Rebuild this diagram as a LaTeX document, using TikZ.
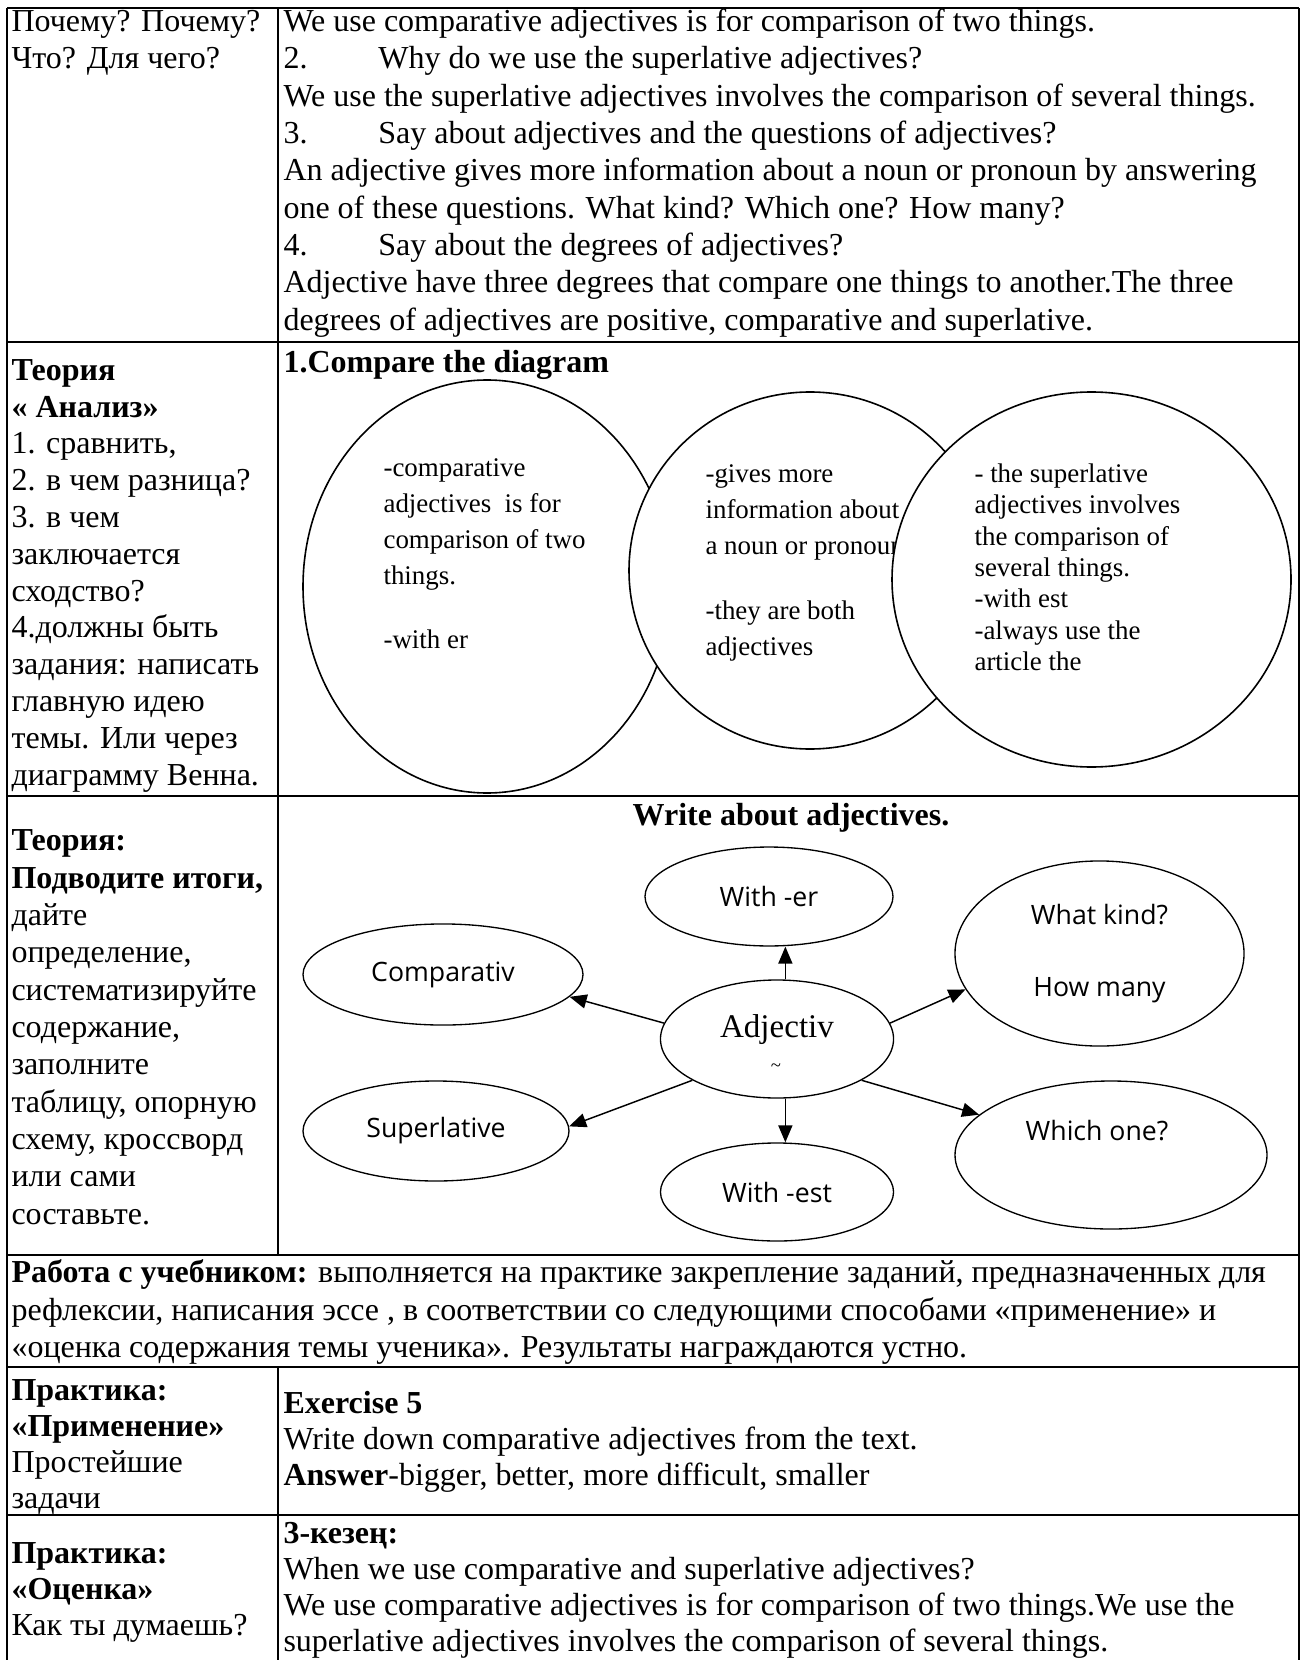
\documentclass[tikz,border=0pt]{standalone}
\usepackage{fontspec}
\setmainfont{Liberation Serif}
\newfontfamily\mapfont{Open Sans}
\usetikzlibrary{arrows.meta,shapes.geometric}

\tikzset{
  rule/.style={line width=0.8pt},
  cell/.style={anchor=north west, inner sep=0pt, align=left, font=\fontsize{12}{14}\selectfont},
  tightcell/.style={cell, font=\fontsize{12}{13.5}\selectfont},
  venntext/.style={anchor=north west, inner sep=0pt, align=left, font=\fontsize{10.1}{13.5}\selectfont},
  bubble/.style={ellipse, draw, line width=0.5pt, inner sep=0pt, align=center, font=\mapfont\fontsize{10}{12}\selectfont},
  arr/.style={-{Triangle[length=6.4pt,width=5.3pt]}, line width=0.55pt},
}

\begin{document}
\begin{tikzpicture}[x=0.375pt, y=-0.375pt]
    \useasboundingbox (0,0) rectangle (1303,1660);

    % table rules
    \draw[rule] (7,8) -- (1299,8);
    \draw[rule] (7,8) -- (7,1660);
    \draw[rule] (1299,8) -- (1299,1660);
    \draw[rule] (278,8) -- (278,1255);
    \draw[rule] (278,1367) -- (278,1660);
    \foreach \y in {342,796,1255,1367,1515}
        \draw[rule] (7,\y) -- (1299,\y);

    % row 1
    \node[cell] (why) at (11,5) {\strut Почему? Почему?\\Что? Для чего?};
    \node[cell] (answers) at (283,5) {\strut We use comparative adjectives is for comparison of two things.\\
        \makebox[35.6pt][l]{2.}Why do we use the superlative adjectives?\\
        We use the superlative adjectives involves the comparison of several things.\\
        \makebox[35.6pt][l]{3.}Say about adjectives and the questions of adjectives?\\
        An adjective gives more information about a noun or pronoun by answering\\
        one of these questions. What kind? Which one? How many?\\
        \makebox[35.6pt][l]{4.}Say about the degrees of adjectives?\\
        Adjective have three degrees that compare one things to another.The three\\
        degrees of adjectives are positive, comparative and superlative.};

    % row 2: analysis + Venn diagram
    \node[cell, font=\fontsize{12}{13.8}\selectfont] (analysis) at (11,354) {\strut\textbf{Теория}\\\textbf{« Анализ»}\\1. сравнить,\\2. в чем разница?\\3. в чем\\заключается\\сходство?\\4.должны быть\\задания: написать\\главную идею\\темы. Или через\\диаграмму Венна.};
    \node[cell] (compare) at (283,346) {\strut\textbf{1.Compare the diagram}};

    \draw[line width=0.6pt, fill=white] (487,586.5) ellipse (184 and 206.5);
    \node[venntext] (comptext) at (383,451) {\strut-comparative\\adjectives~ is for\\comparison of two\\things.\\[10.5pt]-with er};
    \draw[line width=0.6pt, fill=white] (810,570.5) ellipse (181 and 178.5);
    \node[venntext] (bothtext) at (705,457) {\strut-gives more\\information about\\a noun or pronoun\\[10.9pt]-they are both\\adjectives};
    \draw[line width=0.6pt, fill=white] (1091.5,579.5) ellipse (199.5 and 187.5);
    \node[venntext, font=\fontsize{10.1}{11.75}\selectfont] (suptext) at (974,460) {\strut- the superlative\\adjectives involves\\the comparison of\\several things.\\-with est\\-always use the\\article the};

    % row 3: summary + mind map
    \node[cell] (summary) at (11,824) {\strut\textbf{Теория:}\\\textbf{Подводите итоги,}\\дайте\\определение,\\систематизируйте\\содержание,\\заполните\\таблицу, опорную\\схему, кроссворд\\или сами\\составьте.};
    \node[anchor=base, font=\fontsize{12}{14}\selectfont\bfseries] (title) at (791,825) {Write about adjectives.};

    \node[bubble, minimum width=93pt, minimum height=37.1pt] (er) at (769,896.5) {With -er};
    \node[bubble, minimum width=108.4pt, minimum height=69.4pt] (kind) at (1099.5,953.5) {What kind?\\[15pt]How many};
    \node[bubble, minimum width=105pt, minimum height=37.9pt] (comp) at (443,974.5) {Comparativ};
    \node[bubble, minimum width=87.4pt, minimum height=44.25pt, font=\fontsize{12.4}{14}\selectfont,
          text height=8.4pt, text depth=9.9pt] (adj) at (777,1039) {Adjectiv};
    \node[inner sep=0pt, font=\fontsize{7}{7}\selectfont] (adjtail) at (776,1068) {\textasciitilde};
    \node[bubble, minimum width=99.75pt, minimum height=37.5pt] (sup) at (436,1131) {Superlative};
    \node[bubble, minimum width=87.4pt, minimum height=36.75pt] (est) at (777,1192) {With -est};
    \node[bubble, minimum width=117pt, minimum height=55.5pt] (which) at (1111,1155) {};
    \node[anchor=base, inner sep=0pt, font=\mapfont\fontsize{10}{12}\selectfont] (whichlabel) at (1097,1140) {Which one?};

    \draw[arr] (adj.172) -- (comp.-10);
    \draw[arr] (adj.206.6) -- (sup.2.6);
    \draw[arr] (adj.82) -- (adj.82 |- er.south);
    \draw[arr] (adj.-82) -- (adj.-82 |- est.north);
    \draw[arr] (adj.8.6) -- (kind.195.3);
    \draw[arr] (adj.-26.3) -- (which.163.6);

    % row 4
    \node[cell] (textbook) at (11,1256) {\strut\textbf{Работа с учебником:} выполняется на практике закрепление заданий, предназначенных для\\рефлексии, написания эссе , в соответствии со следующими способами «применение» и\\«оценка содержания темы ученика». Результаты награждаются устно.};

    % row 5
    \node[tightcell] (apply) at (11,1375) {\strut\textbf{Практика:}\\\textbf{«Применение»}\\Простейшие\\задачи};
    \node[tightcell] (exercise) at (283,1388) {\strut\textbf{Exercise 5}\\Write down comparative adjectives from the text.\\\textbf{Answer}-bigger, better, more difficult, smaller};

    % row 6
    \node[tightcell] (assess) at (11,1538) {\strut\textbf{Практика:}\\\textbf{«Оценка»}\\Как ты думаешь?};
    \node[tightcell] (stage) at (283,1518) {\strut\textbf{3-кезең:}\\When we use comparative and superlative adjectives?\\We use comparative adjectives is for comparison of two things.We use the\\superlative adjectives involves the comparison of several things.};
\end{tikzpicture}
\end{document}
